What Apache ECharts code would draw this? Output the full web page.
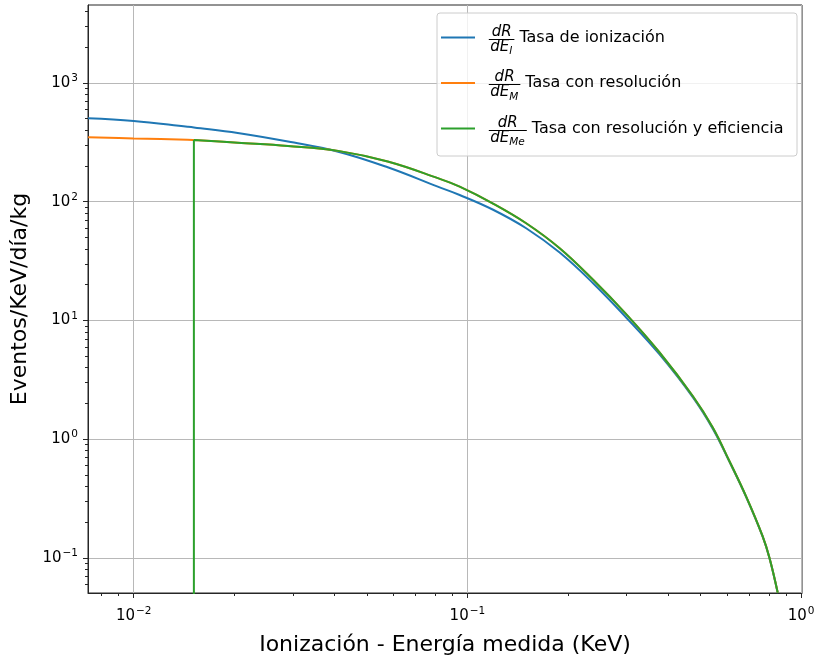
<!DOCTYPE html>
<html>
<head>
<meta charset="utf-8">
<script src="https://cdn.jsdelivr.net/npm/echarts@6/dist/echarts.min.js"></script>
<style>
  html, body { margin: 0; padding: 0; background: #ffffff; }
  #chart { width: 817px; height: 658px; }
</style>
</head>
<body>
<div id="chart"></div>
<script>
// Energía medida (KeV) de las muestras de las tasas de ionización y con resolución
const energia = [0.0073, 0.010, 0.0145, 0.01515, 0.0205, 0.029, 0.041, 0.0577, 0.0815, 0.0948,
  0.119, 0.150, 0.189, 0.238, 0.299, 0.376, 0.474, 0.544, 0.610, 0.684, 0.767, 0.804, 0.851];

// dR/dE_I : tasa de ionización (eventos/KeV/día/kg)
const tasaIonizacion = [505, 479, 428, 422, 379, 321, 264, 195, 134, 114,
  86, 59.8, 37.3, 20.6, 10.6, 5.2, 2.25, 1.22, 0.645, 0.327, 0.151, 0.0993, 0.0506];

// dR/dE_M : tasa con resolución
const tasaResolucion = [349, 341, 333, 331, 314, 295, 268, 218, 158, 134,
  97, 65.9, 40.6, 22.0, 11.3, 5.4, 2.3, 1.25, 0.652, 0.330, 0.152, 0.100, 0.051];

// dR/dE_Me : tasa con resolución y eficiencia. Empieza en el umbral de eficiencia
// (0.01515 KeV) con un salto vertical desde el suelo (0.001, fuera del rango visible);
// el hueco (null) separa el salto del resto de la curva.
const energiaEficiencia = [0.01515, 0.01515, 0.01515, 0.01515, 0.0205, 0.029, 0.041, 0.0577, 0.0815, 0.0948,
  0.119, 0.150, 0.189, 0.238, 0.299, 0.376, 0.474, 0.544, 0.610, 0.684, 0.767, 0.804, 0.851];
const tasaEficiencia = [0.001, 331, null, 331, 314, 295, 268, 218, 158, 134,
  97, 65.9, 40.6, 22.0, 11.3, 5.4, 2.3, 1.25, 0.652, 0.330, 0.152, 0.100, 0.051];

// Nombres de las series y subíndices de las fracciones de la leyenda
const nombres = ['Tasa de ionización', 'Tasa con resolución', 'Tasa con resolución y eficiencia'];
const subindices = ['I', 'M', 'Me'];
const colores = ['#1f77b4', '#ff7f0e', '#2ca02c'];

// Exponentes de las marcas principales (10^n)
const xExponentes = [-2, -1, 0];
const yExponentes = [-1, 0, 1, 2, 3];

// Límites de los ejes
const X_MIN = 0.007297, X_MAX = 1.006;
const Y_MIN = 0.0507, Y_MAX = 4536;

const FUENTE = 'DejaVu Sans';
const NEGRO = '#000000';
const EJE = '#262626';
const REJILLA = '#b8b8b8';

const lx0 = Math.log10(X_MIN), lx1 = Math.log10(X_MAX);
const ly0 = Math.log10(Y_MIN), ly1 = Math.log10(Y_MAX);

// Marcas secundarias de escala logarítmica (2..9 × 10^n)
function menores(lo, hi) {
  const out = [];
  for (let e = Math.floor(lo) - 1; e <= Math.ceil(hi); e++) {
    for (let k = 2; k <= 9; k++) {
      const v = e + Math.log10(k);
      if (v > lo && v < hi) out.push(v);
    }
  }
  return out;
}

function pares(xs, ys) {
  return xs.map((e, i) => [e, ys[i]]);
}

function etiquetaPotencia(v) {
  const n = Math.round(v);
  return '{b|10}{s|' + String(n).replace('-', '\u2212') + '}';
}

const richPotencia = {
  b: { fontFamily: FUENTE, fontSize: 15, color: NEGRO, lineHeight: 20 },
  s: { fontFamily: FUENTE, fontSize: 10.5, color: NEGRO, lineHeight: 12, verticalAlign: 'top', padding: [0, 0, 0, 1] }
};

// Medición de texto para componer las fracciones de la leyenda
const ctx = document.createElement('canvas').getContext('2d');
function ancho(texto, font) { ctx.font = font; return ctx.measureText(texto).width; }
const fFrac = 'italic 15px "DejaVu Sans"';
const fSub = 'italic 10.5px "DejaVu Sans"';
const fLey = '16px "DejaVu Sans"';

const LEY_LEFT = 437, LEY_TOP = 13, LEY_RIGHT = 797;
const PAD_L = 4, ICONO = 34;
const textoX = LEY_LEFT + PAD_L + ICONO + 5;
const barraX = 488.8;
const filaY = [37.5, 83, 128.5];

const fracciones = subindices.map(sub => {
  const wd = ancho('dE', fFrac);
  const ws = ancho(sub, fSub);
  return { wd: wd, ws: ws, barra: wd + ws + 3.5 };
});
const huecos = fracciones.map(f => barraX + f.barra + 5 - textoX);
const anchoContenido = Math.max(...nombres.map((n, i) => ICONO + 5 + huecos[i] + ancho(n, fLey)));
const PAD_R = (LEY_RIGHT - LEY_LEFT) - PAD_L - anchoContenido;

const richLeyenda = {};
huecos.forEach((w, i) => {
  richLeyenda['f' + i] = { width: w, lineHeight: 20, fontSize: 16, fontFamily: FUENTE };
});

const graficos = [];
fracciones.forEach((f, i) => {
  const c = filaY[i];
  const yBarra = Math.round(c + 1) + 0.5;
  graficos.push({
    type: 'text', z: 100, x: barraX + f.barra / 2, y: c - 5.5,
    style: { text: 'dR', font: fFrac, fill: NEGRO, align: 'center', verticalAlign: 'middle' }
  });
  graficos.push({
    type: 'line', z: 100,
    shape: { x1: barraX, y1: yBarra, x2: barraX + f.barra, y2: yBarra },
    style: { stroke: NEGRO, lineWidth: 1 }
  });
  graficos.push({
    type: 'text', z: 100, x: barraX + 1.5, y: c + 9.2,
    style: { text: 'dE', font: fFrac, fill: NEGRO, align: 'left', verticalAlign: 'middle' }
  });
  graficos.push({
    type: 'text', z: 100, x: barraX + 1.5 + f.wd, y: c + 13.9,
    style: { text: subindices[i], font: fSub, fill: NEGRO, align: 'left', verticalAlign: 'middle' }
  });
});

const curvas = [
  pares(energia, tasaIonizacion),
  pares(energia, tasaResolucion),
  pares(energiaEficiencia, tasaEficiencia)
];

function ejeValor(extra) {
  return Object.assign({
    type: 'value',
    axisLine: { show: false, onZero: false },
    axisTick: { show: false },
    axisLabel: { show: false },
    splitLine: { show: false }
  }, extra);
}

const option = {
  animation: false,
  backgroundColor: '#ffffff',
  grid: {
    left: 88, top: 5, width: 714, height: 588,
    show: true, borderColor: EJE, borderWidth: 1,
    outerBoundsMode: 'none'
  },
  xAxis: [
    { type: 'log', logBase: 10, min: X_MIN, max: X_MAX, show: false },
    ejeValor({
      min: lx0, max: lx1, position: 'bottom',
      axisLine: { show: true, onZero: false, lineStyle: { color: EJE, width: 1 } },
      axisTick: { show: true, customValues: xExponentes, length: 5, lineStyle: { color: EJE, width: 1 } },
      axisLabel: { show: true, customValues: xExponentes, formatter: etiquetaPotencia, rich: richPotencia, margin: 13 },
      splitLine: { show: true, lineStyle: { color: REJILLA, width: 1 } },
      name: 'Ionización - Energía medida (KeV)', nameLocation: 'middle', nameGap: 41,
      nameTextStyle: { fontFamily: FUENTE, fontSize: 22, color: NEGRO }
    }),
    ejeValor({
      min: lx0, max: lx1, position: 'bottom',
      axisTick: { show: true, customValues: menores(lx0, lx1), length: 3, lineStyle: { color: EJE, width: 1 } }
    })
  ],
  yAxis: [
    { type: 'log', logBase: 10, min: Y_MIN, max: Y_MAX, show: false },
    ejeValor({
      min: ly0, max: ly1, position: 'left',
      axisLine: { show: true, onZero: false, lineStyle: { color: EJE, width: 1 } },
      axisTick: { show: true, customValues: yExponentes, length: 5, lineStyle: { color: EJE, width: 1 } },
      axisLabel: { show: true, customValues: yExponentes, formatter: etiquetaPotencia, rich: richPotencia, margin: 10 },
      splitLine: { show: true, lineStyle: { color: REJILLA, width: 1 } },
      name: 'Eventos/KeV/día/kg', nameLocation: 'middle', nameRotate: 90, nameGap: 51,
      nameTextStyle: { fontFamily: FUENTE, fontSize: 22, color: NEGRO }
    }),
    ejeValor({
      min: ly0, max: ly1, position: 'left',
      axisTick: { show: true, customValues: menores(ly0, ly1), length: 3, lineStyle: { color: EJE, width: 1 } }
    })
  ],
  legend: {
    orient: 'vertical', left: LEY_LEFT, top: LEY_TOP,
    padding: [14.5, PAD_R, 17.5, PAD_L],
    itemGap: 25.5, itemWidth: ICONO, itemHeight: 2, icon: 'rect',
    backgroundColor: 'rgba(255,255,255,0.8)', borderColor: '#cccccc', borderWidth: 1, borderRadius: 3,
    selectedMode: false,
    textStyle: { fontFamily: FUENTE, fontSize: 16, color: NEGRO, lineHeight: 20, rich: richLeyenda },
    formatter: name => '{f' + nombres.indexOf(name) + '| }' + name,
    data: nombres
  },
  graphic: graficos,
  series: curvas.map((datos, i) => ({
    name: nombres[i], type: 'line', xAxisIndex: 0, yAxisIndex: 0,
    data: datos, symbol: 'none', showSymbol: false, connectNulls: false,
    smooth: 0.4, clip: true, z: 3 + i,
    lineStyle: { color: colores[i], width: 2 },
    itemStyle: { color: colores[i] }
  }))
};

const chart = echarts.init(document.getElementById('chart'), null, { renderer: 'canvas' });
chart.setOption(option);
</script>
</body>
</html>
